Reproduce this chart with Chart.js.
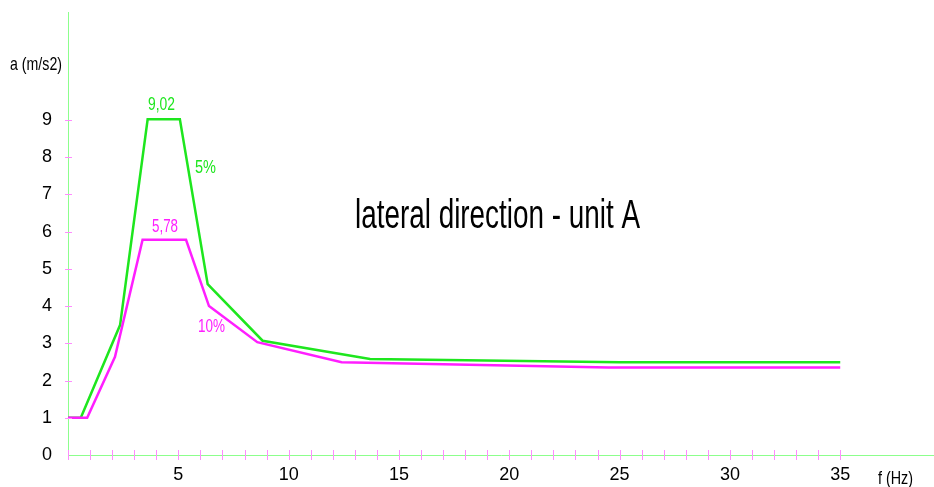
<!DOCTYPE html>
<html>
<head>
<meta charset="utf-8">
<script src="https://cdn.jsdelivr.net/npm/chart.js@4"></script>
<style>
  html, body { margin: 0; padding: 0; background: #fff; }
  canvas { display: block; }
</style>
</head>
<body>
<canvas id="chart" width="934" height="487"></canvas>
<script>
// response spectrum, damping 5% (green) and 10% (magenta)
const freq5 = [0, 0.58, 2.36, 3.61, 5.07, 6.33, 8.82, 13.69, 25, 35];
const acc5 = [1, 1, 3.49, 9.02, 9.02, 4.59, 3.07, 2.58, 2.49, 2.49];
const freq10 = [0, 0.87, 2.13, 3.38, 5.35, 6.39, 8.58, 12.4, 24.5, 35];
const acc10 = [1, 1, 2.64, 5.78, 5.78, 4.0, 3.03, 2.49, 2.35, 2.35];

const xTickLabels = [5, 10, 15, 20, 25, 30, 35];
const yTickLabels = [0, 1, 2, 3, 4, 5, 6, 7, 8, 9];

const GREEN = '#1ee61e';
const PINK = '#ff1eff';
const AXIS = '#8cff8c';
const TICK = '#ff8cff';

// pick a condensed font if there is one
function hasFont(name) {
    const c = document.createElement('canvas').getContext('2d');
    c.font = '40px monospace';
    const w1 = c.measureText('abcdefghij 0123').width;
    c.font = '40px "' + name + '", monospace';
    return c.measureText('abcdefghij 0123').width !== w1;
}
const narrow = hasFont('Liberation Sans Narrow') ? '"Liberation Sans Narrow"' : '"Liberation Sans"';

// text squeezed to a given width (the original text is tall and narrow)
function fitText(ctx, text, left, baseline, width, size, color) {
    ctx.save();
    ctx.font = size + 'px "Liberation Sans", Arial, sans-serif';
    const w = ctx.measureText(text).width;
    ctx.translate(left, baseline);
    ctx.scale(width / w, 1);
    ctx.fillStyle = color;
    ctx.textAlign = 'left';
    ctx.textBaseline = 'alphabetic';
    ctx.fillText(text, 0, 0);
    ctx.restore();
}

const extras = {
    id: 'extras',
    afterDraw(chart) {
        const ctx = chart.ctx;
        const xs = chart.scales.x, ys = chart.scales.y;
        const x0 = xs.getPixelForValue(0), y0 = ys.getPixelForValue(0);

        // tick marks crossing the axes
        ctx.save();
        ctx.strokeStyle = TICK;
        ctx.lineWidth = 1;
        ctx.beginPath();
        for (let v = 0; v <= 35; v++) {
            const px = Math.round(xs.getPixelForValue(v)) + 0.5;
            ctx.moveTo(px, y0 - 5);
            ctx.lineTo(px, y0 + 5);
        }
        for (let v = 1; v <= 9; v++) {
            const py = Math.round(ys.getPixelForValue(v)) + 0.5;
            ctx.moveTo(x0 - 3, py);
            ctx.lineTo(x0 + 4, py);
        }
        ctx.stroke();
        ctx.restore();

        // axis names
        fitText(ctx, 'a (m/s2)', 10, 70, 52, 19, '#000');
        fitText(ctx, 'f (Hz)', 878, 484, 35, 19, '#000');

        // peak values and damping
        fitText(ctx, '9,02', 148, 110, 27, 19, GREEN);
        fitText(ctx, '5%', 195, 173, 21, 19, GREEN);
        fitText(ctx, '5,78', 152, 232, 26, 19, PINK);
        fitText(ctx, '10%', 198, 332, 27, 19, PINK);

        // title
        fitText(ctx, 'lateral direction - unit A', 355, 228, 285, 41, '#000');
    }
};

function toPoints(xs, ys) {
    return xs.map((x, i) => ({ x: x, y: ys[i] }));
}

new Chart(document.getElementById('chart'), {
    type: 'line',
    data: {
        datasets: [
            {
                label: '5%',
                data: toPoints(freq5, acc5),
                borderColor: GREEN,
                borderWidth: 2.5,
                pointRadius: 0,
                tension: 0,
                order: 1
            },
            {
                label: '10%',
                data: toPoints(freq10, acc10),
                borderColor: PINK,
                borderWidth: 2.5,
                pointRadius: 0,
                tension: 0,
                order: 0
            }
        ]
    },
    options: {
        responsive: false,
        animation: false,
        layout: { autoPadding: false, padding: { top: 12, right: 0, left: 0, bottom: 0 } },
        plugins: {
            legend: { display: false },
            tooltip: { enabled: false }
        },
        scales: {
            x: {
                type: 'linear',
                min: 0,
                max: 39.25,
                afterFit(scale) {
                    scale.height = 32;
                    scale.paddingLeft = 0;
                    scale.paddingRight = 0;
                },
                border: { color: AXIS, width: 1 },
                grid: { display: true, drawOnChartArea: false, drawTicks: false },
                ticks: {
                    stepSize: 1,
                    autoSkip: false,
                    maxRotation: 0,
                    padding: 9,
                    color: '#000',
                    font: { family: narrow, size: 18 },
                    callback: v => xTickLabels.includes(v) ? String(v) : ''
                }
            },
            y: {
                min: 0,
                max: 11.9,
                afterFit(scale) {
                    scale.width = 68;
                    scale.paddingTop = 0;
                    scale.paddingBottom = 0;
                },
                border: { color: AXIS, width: 1 },
                grid: { display: true, drawOnChartArea: false, drawTicks: false },
                ticks: {
                    stepSize: 1,
                    autoSkip: false,
                    padding: 16,
                    color: '#000',
                    font: { family: narrow, size: 18 },
                    callback: v => yTickLabels.includes(v) ? String(v) : ''
                }
            }
        }
    },
    plugins: [extras]
});
</script>
</body>
</html>
